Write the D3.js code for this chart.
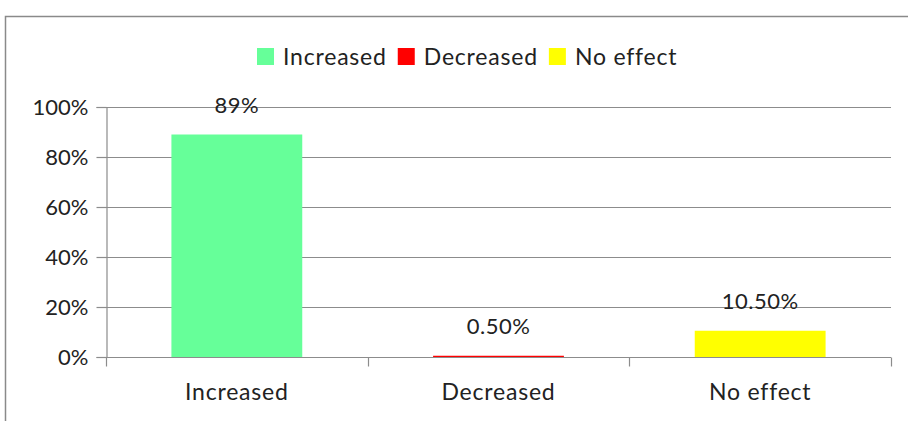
<!DOCTYPE html>
<html>
<head>
<meta charset="utf-8">
<script src="https://cdn.jsdelivr.net/npm/d3@7"></script>
<style>
  body { margin: 0; background: #fff; }
  svg text { font-family: Lato, sans-serif; fill: #222; }
</style>
</head>
<body>
<div id="chart"></div>
<script>
var categories = ['Increased', 'Decreased', 'No effect'];
var values = [0.89, 0.005, 0.105];
var labels = ['89%', '0.50%', '10.50%'];
var colors = ['#66ff99', '#ff0000', '#ffff00'];
var yTicks = [0, 0.2, 0.4, 0.6, 0.8, 1];

var width = 908, height = 421;
var margin = {top: 107, right: 17, bottom: 64, left: 106};

var svg = d3.select('#chart').append('svg')
  .attr('width', width)
  .attr('height', height);

// outer frame (only top and left visible)
svg.append('path')
  .attr('d', 'M5.5,' + height + 'V16.5H' + width)
  .attr('fill', 'none')
  .attr('stroke', '#8a8a8a')
  .attr('stroke-width', 1.5);

var x = d3.scaleBand()
  .domain(categories)
  .range([margin.left, width - margin.right])
  .paddingInner(0.5)
  .paddingOuter(0.25);

var y = d3.scaleLinear()
  .domain([0, 1])
  .range([height - margin.bottom, margin.top]);

// gridlines
svg.append('g')
  .selectAll('line')
  .data(yTicks.slice(1))
  .join('line')
  .attr('x1', margin.left)
  .attr('x2', width - margin.right)
  .attr('y1', function(d) { return Math.round(y(d)) + 0.5; })
  .attr('y2', function(d) { return Math.round(y(d)) + 0.5; })
  .attr('stroke', '#8c8c8c')
  .attr('stroke-width', 1.2);

// bars
svg.append('g')
  .selectAll('rect')
  .data(values)
  .join('rect')
  .attr('x', function(d, i) { return x(categories[i]); })
  .attr('width', x.bandwidth())
  .attr('y', function(d) { return y(d); })
  .attr('height', function(d) { return y(0) - y(d); })
  .attr('fill', function(d, i) { return colors[i]; });

// data labels
svg.append('g')
  .selectAll('text')
  .data(values)
  .join('text')
  .attr('x', function(d, i) { return x(categories[i]) + x.bandwidth() / 2; })
  .attr('y', function(d) { return y(d) - 22; })
  .attr('text-anchor', 'middle')
  .style('font-size', '22px')
  .style('letter-spacing', '0.5px')
  .text(function(d, i) { return labels[i]; });

// y axis
var yAxis = svg.append('g')
  .attr('transform', 'translate(' + (margin.left + 0.5) + ',0)')
  .call(d3.axisLeft(y).tickValues(yTicks).tickSize(10).tickPadding(8)
    .tickFormat(d3.format('.0%')));
yAxis.select('.domain').attr('stroke', '#8c8c8c').attr('stroke-width', 1.2);
yAxis.selectAll('.tick line').attr('stroke', '#8c8c8c').attr('stroke-width', 1.2);
yAxis.selectAll('text').style('font-size', '22px').attr('fill', '#222');

// x axis
var xRange = x.range();
var bounds = d3.range(categories.length + 1).map(function(i) {
  return xRange[0] + i * x.step();
});
var xg = svg.append('g')
  .attr('transform', 'translate(0,' + (Math.round(y(0)) + 0.5) + ')');
xg.append('line')
  .attr('x1', xRange[0]).attr('x2', xRange[1])
  .attr('stroke', '#8c8c8c').attr('stroke-width', 1.2);
xg.selectAll('.bound')
  .data(bounds)
  .join('line')
  .attr('class', 'bound')
  .attr('x1', function(d) { return Math.round(d) + 0.5; })
  .attr('x2', function(d) { return Math.round(d) + 0.5; })
  .attr('y1', 0).attr('y2', 9)
  .attr('stroke', '#8c8c8c').attr('stroke-width', 1.2);
xg.selectAll('text')
  .data(categories)
  .join('text')
  .attr('x', function(d) { return x(d) + x.bandwidth() / 2; })
  .attr('y', 42)
  .attr('text-anchor', 'middle')
  .style('font-size', '23px')
  .style('letter-spacing', '0.8px')
  .text(function(d) { return d; });

// legend
var legend = svg.append('g');
var lx = 257;
categories.forEach(function(c, i) {
  legend.append('rect')
    .attr('x', lx).attr('y', 48)
    .attr('width', 17).attr('height', 17)
    .attr('fill', colors[i]);
  var t = legend.append('text')
    .attr('x', lx + 26).attr('y', 65)
    .style('font-size', '23px')
    .style('letter-spacing', '0.8px')
    .text(c);
  lx += 26 + t.node().getComputedTextLength() + 11;
});
</script>
</body>
</html>
